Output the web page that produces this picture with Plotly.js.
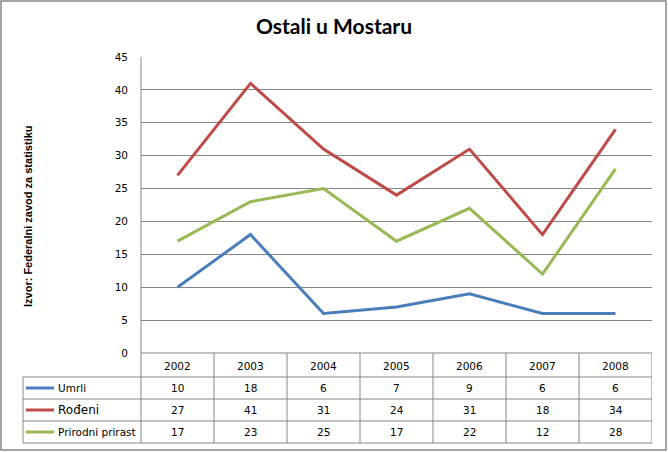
<!DOCTYPE html>
<html>
<head>
<meta charset="utf-8">
<script src="https://cdn.plot.ly/plotly-3.0.1.min.js"></script>
<style>
  body { margin: 0; background: #fff; }
  #chart { width: 668px; height: 452px; }
</style>
</head>
<body>
<div id="chart"></div>
<script>
const years = ['2002', '2003', '2004', '2005', '2006', '2007', '2008'];
const umrli = [10, 18, 6, 7, 9, 6, 6];
const rodeni = [27, 41, 31, 24, 31, 18, 34];
const prirast = [17, 23, 25, 17, 22, 12, 28];
const seriesNames = ['Umrli', 'Rođeni', 'Prirodni prirast'];
const seriesColors = ['#4a7ebb', '#be4b48', '#98b954'];

// plot area in page pixels
const L = 141, T = 57, W = 511, H = 296;
const px = v => (v - L) / W;
const py = v => (T + H - v) / H;

const GRID = '#868686';
const FONT = 'DejaVu Sans';
const seriesData = [umrli, rodeni, prirast];

const traces = seriesData.map((vals, i) => ({
    x: years,
    y: vals,
    type: 'scatter',
    mode: 'lines',
    name: seriesNames[i],
    line: { color: seriesColors[i], width: 3 },
    showlegend: false
}));

const shapes = [];
const annotations = [];
const hline = (x0, x1, y) => shapes.push({
    type: 'line', xref: 'paper', yref: 'paper',
    x0: x0, x1: x1, y0: y, y1: y,
    line: { color: GRID, width: 1 }
});

// outer chart border
shapes.push({
    type: 'rect', xref: 'paper', yref: 'paper',
    x0: px(1), x1: px(666), y0: py(1), y1: py(450),
    line: { color: GRID, width: 1.5 }
});

// left axis line running down through the table
shapes.push({
    type: 'line', xref: 'paper', yref: 'paper',
    x0: 0, x1: 0, y0: py(57), y1: py(443),
    line: { color: GRID, width: 1 }
});

// table rows
const rowTops = [353, 377, 399, 421, 443];
hline(0, 1, py(rowTops[0]));
for (let r = 1; r < rowTops.length; r++) hline(px(23), 1, py(rowTops[r]));
shapes.push({
    type: 'line', xref: 'paper', yref: 'paper',
    x0: px(23), x1: px(23), y0: py(377), y1: py(443),
    line: { color: GRID, width: 1 }
});
for (let c = 1; c <= years.length; c++) {
    shapes.push({
        type: 'line', xref: 'x', yref: 'paper',
        x0: c - 0.5, x1: c - 0.5, y0: py(353), y1: py(443),
        line: { color: GRID, width: 1 }
    });
}

// header row: years
years.forEach((y, i) => annotations.push({
    x: i, xref: 'x', y: py(365.5), yref: 'paper',
    text: y, showarrow: false, xanchor: 'center', yanchor: 'middle',
    font: { family: FONT, size: 10.5, color: '#000' }
}));

// data rows with legend keys
const labelSizes = [10.5, 12, 10.5];
seriesData.forEach((vals, r) => {
    const cy = (rowTops[r + 1] + rowTops[r + 2]) / 2;
    shapes.push({
        type: 'line', xref: 'paper', yref: 'paper',
        x0: px(26), x1: px(54), y0: py(cy), y1: py(cy),
        line: { color: seriesColors[r], width: 3 }
    });
    annotations.push({
        x: px(56), xref: 'paper', y: py(cy), yref: 'paper',
        text: seriesNames[r], showarrow: false, xanchor: 'left', yanchor: 'middle',
        font: { family: FONT, size: labelSizes[r], color: '#000' }
    });
    vals.forEach((v, i) => annotations.push({
        x: i, xref: 'x', y: py(cy), yref: 'paper',
        text: String(v), showarrow: false, xanchor: 'center', yanchor: 'middle',
        font: { family: FONT, size: 10.5, color: '#000' }
    }));
});

// vertical source note
annotations.push({
    x: px(28), xref: 'paper', y: py(216), yref: 'paper',
    text: '<b>Izvor: Federalni zavod za statistiku</b>', textangle: -90,
    showarrow: false, xanchor: 'center', yanchor: 'middle',
    font: { family: 'Liberation Sans', size: 11, color: '#000' }
});

const layout = {
    width: 668,
    height: 452,
    margin: { l: L, r: 668 - L - W, t: T, b: 452 - T - H },
    title: {
        text: '<b>Ostali u Mostaru</b>',
        font: { family: 'Lato', size: 21, color: '#000' },
        x: 0.5, xref: 'container', xanchor: 'center',
        y: 1 - 27 / 452, yref: 'container', yanchor: 'middle'
    },
    xaxis: {
        type: 'category',
        range: [-0.5, years.length - 0.5],
        showticklabels: false,
        showgrid: false,
        zeroline: false,
        showline: false,
        ticks: ''
    },
    yaxis: {
        range: [0, 45],
        dtick: 5,
        showgrid: true,
        gridcolor: GRID,
        gridwidth: 1,
        zeroline: false,
        showline: false,
        ticks: '',
        ticklabelstandoff: 12,
        tickfont: { family: FONT, size: 10.5, color: '#000' }
    },
    shapes: shapes,
    annotations: annotations,
    plot_bgcolor: '#fff',
    paper_bgcolor: '#fff',
    showlegend: false
};

Plotly.newPlot('chart', traces, layout, { displayModeBar: false, staticPlot: true });
</script>
</body>
</html>
